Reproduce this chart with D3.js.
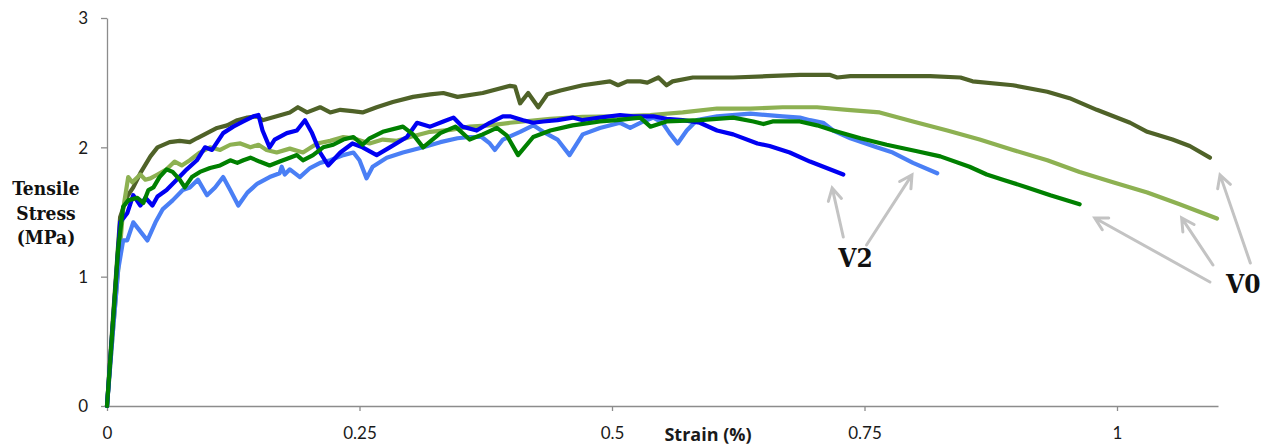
<!DOCTYPE html>
<html>
<head>
<meta charset="utf-8">
<script src="https://cdn.jsdelivr.net/npm/d3@7"></script>
<style>
  body { margin: 0; background: #fff; }
  .axis path, .axis line { stroke: #8c8c8c; stroke-width: 1.3; }
  .axis text { font-family: Lato, "Open Sans", sans-serif; font-size: 17px; fill: #1a1a1a; }
  .title { font-family: "DejaVu Serif Condensed", "DejaVu Serif", serif; font-stretch: condensed; font-weight: bold; fill: #111; }
</style>
</head>
<body>
<div id="chart"></div>
<script>
// tensile curves, strain (%) vs stress (MPa)
const darkOlive = [[0,0],[0.006,0.69],[0.013,1.46],[0.020,1.62],[0.026,1.69],[0.033,1.80],[0.043,1.93],[0.050,2.00],[0.062,2.04],[0.072,2.05],[0.082,2.04],[0.089,2.07],[0.099,2.11],[0.109,2.15],[0.119,2.17],[0.129,2.21],[0.139,2.23],[0.149,2.24],[0.154,2.21],[0.168,2.24],[0.181,2.27],[0.189,2.31],[0.198,2.27],[0.211,2.31],[0.221,2.27],[0.231,2.29],[0.243,2.28],[0.253,2.27],[0.267,2.31],[0.283,2.35],[0.303,2.39],[0.320,2.41],[0.333,2.42],[0.347,2.39],[0.372,2.42],[0.399,2.475],[0.404,2.47],[0.409,2.34],[0.417,2.42],[0.427,2.31],[0.436,2.41],[0.449,2.44],[0.471,2.48],[0.498,2.51],[0.506,2.48],[0.515,2.51],[0.528,2.51],[0.535,2.50],[0.546,2.54],[0.554,2.48],[0.560,2.51],[0.580,2.54],[0.620,2.54],[0.653,2.55],[0.686,2.56],[0.716,2.56],[0.723,2.54],[0.736,2.55],[0.766,2.55],[0.815,2.55],[0.845,2.54],[0.857,2.51],[0.897,2.48],[0.931,2.43],[0.953,2.38],[0.980,2.29],[1.013,2.19],[1.030,2.12],[1.055,2.06],[1.072,2.01],[1.092,1.92]];

const lightOlive = [[0,0],[0.006,0.59],[0.011,1.05],[0.016,1.52],[0.021,1.77],[0.025,1.73],[0.033,1.79],[0.038,1.75],[0.043,1.76],[0.050,1.79],[0.059,1.83],[0.067,1.89],[0.074,1.86],[0.082,1.90],[0.092,1.96],[0.102,2.00],[0.112,1.98],[0.122,2.02],[0.132,2.03],[0.142,2.00],[0.150,2.02],[0.158,1.98],[0.168,1.96],[0.181,1.99],[0.194,1.96],[0.208,2.03],[0.221,2.05],[0.234,2.08],[0.244,2.07],[0.260,2.03],[0.273,2.06],[0.287,2.05],[0.300,2.08],[0.320,2.12],[0.340,2.135],[0.359,2.16],[0.379,2.17],[0.399,2.19],[0.439,2.22],[0.471,2.235],[0.505,2.24],[0.538,2.25],[0.570,2.27],[0.604,2.30],[0.637,2.30],[0.669,2.31],[0.703,2.31],[0.733,2.29],[0.765,2.27],[0.798,2.20],[0.832,2.13],[0.864,2.06],[0.897,1.98],[0.931,1.90],[0.963,1.81],[0.996,1.73],[1.030,1.65],[1.062,1.56],[1.099,1.45]];

const lightBlue = [[0,0],[0.006,0.59],[0.011,1.05],[0.016,1.28],[0.020,1.28],[0.026,1.42],[0.033,1.35],[0.040,1.28],[0.048,1.42],[0.055,1.52],[0.065,1.59],[0.075,1.67],[0.082,1.69],[0.090,1.75],[0.099,1.63],[0.107,1.69],[0.115,1.77],[0.122,1.67],[0.130,1.55],[0.139,1.65],[0.149,1.72],[0.161,1.77],[0.171,1.80],[0.173,1.85],[0.176,1.79],[0.181,1.83],[0.191,1.77],[0.201,1.84],[0.211,1.88],[0.221,1.90],[0.234,1.94],[0.244,1.96],[0.250,1.90],[0.257,1.76],[0.263,1.85],[0.277,1.92],[0.293,1.96],[0.313,2.00],[0.330,2.04],[0.347,2.07],[0.359,2.08],[0.371,2.08],[0.379,2.03],[0.384,1.98],[0.392,2.06],[0.409,2.12],[0.422,2.17],[0.432,2.12],[0.446,2.06],[0.458,1.94],[0.471,2.10],[0.488,2.15],[0.508,2.19],[0.518,2.15],[0.531,2.20],[0.541,2.23],[0.550,2.19],[0.557,2.11],[0.565,2.03],[0.574,2.13],[0.584,2.21],[0.604,2.24],[0.637,2.26],[0.669,2.24],[0.686,2.23],[0.696,2.21],[0.709,2.19],[0.719,2.13],[0.736,2.07],[0.762,2.00],[0.778,1.96],[0.798,1.88],[0.822,1.80]];

const blue = [[0,0],[0.006,0.66],[0.013,1.42],[0.020,1.49],[0.026,1.63],[0.033,1.55],[0.038,1.61],[0.045,1.55],[0.050,1.62],[0.059,1.67],[0.069,1.75],[0.079,1.83],[0.089,1.90],[0.097,2.00],[0.104,1.98],[0.115,2.11],[0.125,2.16],[0.135,2.20],[0.145,2.24],[0.150,2.25],[0.154,2.13],[0.161,2.00],[0.166,2.06],[0.178,2.11],[0.188,2.13],[0.196,2.21],[0.203,2.11],[0.211,1.96],[0.219,1.86],[0.231,1.96],[0.243,2.03],[0.253,2.00],[0.267,1.94],[0.280,2.00],[0.297,2.08],[0.307,2.19],[0.320,2.16],[0.333,2.20],[0.343,2.23],[0.352,2.16],[0.366,2.13],[0.379,2.19],[0.392,2.24],[0.399,2.24],[0.412,2.21],[0.422,2.19],[0.432,2.20],[0.446,2.21],[0.461,2.23],[0.471,2.21],[0.488,2.23],[0.508,2.25],[0.521,2.24],[0.541,2.24],[0.554,2.22],[0.570,2.21],[0.587,2.19],[0.604,2.13],[0.620,2.10],[0.644,2.03],[0.656,2.01],[0.676,1.96],[0.696,1.89],[0.729,1.79]];

const green = [[0,0],[0.006,0.66],[0.011,1.21],[0.016,1.54],[0.021,1.59],[0.030,1.61],[0.036,1.57],[0.041,1.67],[0.046,1.69],[0.052,1.77],[0.059,1.83],[0.065,1.81],[0.072,1.75],[0.077,1.69],[0.084,1.77],[0.092,1.81],[0.102,1.84],[0.112,1.86],[0.122,1.90],[0.129,1.88],[0.135,1.90],[0.142,1.92],[0.151,1.89],[0.161,1.86],[0.171,1.89],[0.181,1.92],[0.188,1.94],[0.194,1.90],[0.204,1.94],[0.214,2.00],[0.224,2.02],[0.234,2.06],[0.244,2.08],[0.253,2.02],[0.260,2.07],[0.273,2.12],[0.293,2.16],[0.303,2.10],[0.313,2.00],[0.330,2.11],[0.345,2.16],[0.359,2.06],[0.372,2.10],[0.386,2.15],[0.396,2.09],[0.407,1.94],[0.422,2.08],[0.439,2.13],[0.461,2.17],[0.488,2.20],[0.505,2.21],[0.528,2.23],[0.538,2.16],[0.554,2.20],[0.587,2.21],[0.620,2.23],[0.640,2.20],[0.650,2.18],[0.659,2.20],[0.686,2.20],[0.703,2.17],[0.719,2.13],[0.746,2.07],[0.772,2.02],[0.802,1.97],[0.825,1.93],[0.854,1.85],[0.871,1.79],[0.887,1.75],[0.911,1.69],[0.934,1.63],[0.963,1.56]];

const seriesNames = ["darkOlive", "lightOlive", "lightBlue", "blue", "green"];
const seriesData = [darkOlive, lightOlive, lightBlue, blue, green];
const seriesColors = ["#4f6228", "#8db152", "#4a7ff5", "#0000f2", "#008000"];

const xTicks = [0, 0.25, 0.5, 0.75, 1];
const yTicks = [0, 1, 2, 3];

// annotation labels and arrows (tail -> head), in data units
const labelTexts = ["V2", "V0"];
const labelPos = [[0.724, 1.075], [1.108, 0.874]];
const arrowLines = [
  [0.729, 1.307, 0.718, 1.686],
  [0.752, 1.245, 0.797, 1.787],
  [1.092, 0.959, 0.978, 1.454],
  [1.095, 1.090, 1.064, 1.454],
  [1.132, 1.106, 1.102, 1.787]
];

const width = 1265, height = 448;
const svg = d3.select("#chart").append("svg")
  .attr("width", width)
  .attr("height", height);

const x = d3.scaleLinear().domain([0, 1.1]).range([107, 1218]);
const y = d3.scaleLinear().domain([0, 3]).range([406, 18]);

// axes
const xAxis = svg.append("g")
  .attr("class", "axis")
  .attr("transform", `translate(0,${y(0)})`)
  .call(d3.axisBottom(x).tickValues(xTicks).tickSize(5).tickSizeOuter(0).tickFormat(d => String(d)));
xAxis.selectAll("text").attr("y", 33).attr("dy", 0);

const yAxis = svg.append("g")
  .attr("class", "axis")
  .attr("transform", `translate(${x(0)},0)`)
  .call(d3.axisLeft(y).tickValues(yTicks).tickSize(6).tickSizeOuter(0).tickFormat(d => String(d)));
yAxis.selectAll("text").attr("x", -19).attr("dy", "0.35em");

// curves
const line = d3.line()
  .x(d => x(d[0]))
  .y(d => y(d[1]));

svg.selectAll(".curve")
  .data(seriesData)
  .join("path")
  .attr("class", (d, i) => "curve " + seriesNames[i])
  .attr("d", line)
  .attr("fill", "none")
  .attr("stroke", (d, i) => seriesColors[i])
  .attr("stroke-width", 4.2)
  .attr("stroke-linejoin", "round")
  .attr("stroke-linecap", "round");

// arrows with open heads
const arrowG = svg.append("g")
  .attr("stroke", "#c3c3c3")
  .attr("stroke-width", 3)
  .attr("fill", "none")
  .attr("stroke-linecap", "round");

arrowLines.forEach(a => {
  const x1 = x(a[0]), y1 = y(a[1]), x2 = x(a[2]), y2 = y(a[3]);
  const ang = Math.atan2(y2 - y1, x2 - x1);
  const len = 14, spread = 0.5;
  const hx1 = x2 - len * Math.cos(ang - spread), hy1 = y2 - len * Math.sin(ang - spread);
  const hx2 = x2 - len * Math.cos(ang + spread), hy2 = y2 - len * Math.sin(ang + spread);
  arrowG.append("path")
    .attr("d", `M${x1},${y1}L${x2},${y2}M${hx1},${hy1}L${x2},${y2}L${hx2},${hy2}`);
});

svg.selectAll(".vlabel")
  .data(labelTexts)
  .join("text")
  .attr("class", "title vlabel")
  .attr("x", (d, i) => x(labelPos[i][0]))
  .attr("y", (d, i) => y(labelPos[i][1]))
  .attr("font-size", 26)
  .text(d => d);

// axis titles
svg.append("text")
  .attr("x", 708)
  .attr("y", 441)
  .attr("text-anchor", "middle")
  .style("font-family", "'Open Sans', sans-serif")
  .style("font-weight", "bold")
  .style("font-size", "18px")
  .style("fill", "#1a1a1a")
  .text("Strain (%)");

const yTitle = svg.append("text")
  .attr("class", "title")
  .attr("text-anchor", "middle")
  .attr("font-size", 19);
["Tensile", "Stress", "(MPa)"].forEach((t, i) => {
  yTitle.append("tspan").attr("x", 46).attr("y", 195 + i * 24.5).text(t);
});
</script>
</body>
</html>
